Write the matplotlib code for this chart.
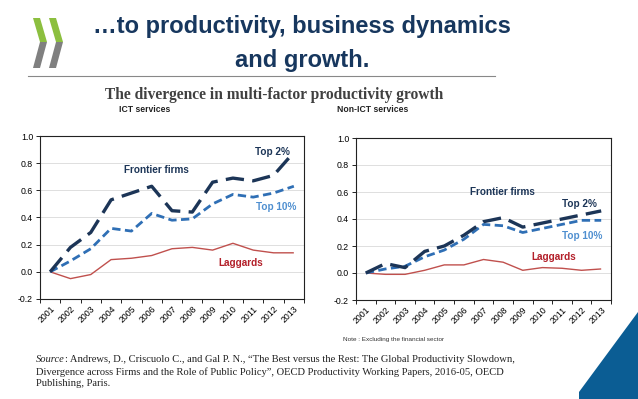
import matplotlib
matplotlib.use("Agg")
import matplotlib.pyplot as plt
from matplotlib.patches import Polygon

years = ["2001", "2002", "2003", "2004", "2005", "2006", "2007",
         "2008", "2009", "2010", "2011", "2012", "2013"]

ict_top2 = [0.00, 0.18, 0.29, 0.53, 0.58, 0.63, 0.45, 0.44, 0.66, 0.69, 0.67, 0.71, 0.88]
ict_top10 = [0.00, 0.08, 0.17, 0.32, 0.30, 0.43, 0.38, 0.39, 0.50, 0.57, 0.55, 0.58, 0.63]
ict_lag = [0.00, -0.05, -0.02, 0.09, 0.10, 0.12, 0.17, 0.18, 0.16, 0.21, 0.16, 0.14, 0.14]

non_top2 = [0.00, 0.07, 0.04, 0.16, 0.20, 0.28, 0.38, 0.41, 0.34, 0.37, 0.40, 0.43, 0.46]
non_top10 = [0.00, 0.03, 0.05, 0.12, 0.17, 0.25, 0.36, 0.35, 0.30, 0.33, 0.36, 0.39, 0.39]
non_lag = [0.00, -0.01, -0.01, 0.02, 0.06, 0.06, 0.10, 0.08, 0.02, 0.04, 0.035, 0.02, 0.03]

yticks = [-0.2, 0.0, 0.2, 0.4, 0.6, 0.8, 1.0]

NAVY = "#1c3557"
BLUE = "#2f6fb5"
RED = "#c0504d"
TXT_BLUE = "#4f8fd0"
TXT_RED = "#b3202a"

W, H = 638, 399
fig = plt.figure(figsize=(W / 100, H / 100), dpi=100)
fig.patch.set_facecolor("white")


def px(x, y):
    return (x / W, 1 - y / H)


# logo chevrons
for dx in (0, 16):
    green = [px(33 + dx, 18), px(40 + dx, 18), px(47 + dx, 42), px(40 + dx, 42)]
    gray = [px(40 + dx, 42), px(47 + dx, 42), px(40 + dx, 68), px(33 + dx, 68)]
    fig.patches.append(Polygon(green, closed=True, transform=fig.transFigure,
                               facecolor="#8cbf3f", edgecolor="none"))
    fig.patches.append(Polygon(gray, closed=True, transform=fig.transFigure,
                               facecolor="#808080", edgecolor="none"))

# blue triangle bottom right
tri = [px(579, 392), px(638, 312), px(638, 399), px(579, 399)]
fig.patches.append(Polygon(tri, closed=True, transform=fig.transFigure,
                           facecolor="#0b5d94", edgecolor="none"))

# header
fig.text(302 / W, 1 - 26 / H, "\u2026to productivity, business dynamics",
         ha="center", va="center", fontsize=17, fontweight="bold",
         color="#17375e", family="Liberation Sans")
fig.text(302 / W, 1 - 60 / H, "and growth.",
         ha="center", va="center", fontsize=17, fontweight="bold",
         color="#17375e", family="Liberation Sans")
fig.add_artist(plt.Line2D([28 / W, 495 / W], [1 - 76 / H, 1 - 76 / H],
                          transform=fig.transFigure, color="#888888", lw=0.8))
fig.text(274 / W, 1 - 95 / H, "The divergence in multi-factor productivity growth",
         ha="center", va="center", fontsize=11.2, fontweight="bold",
         color="#404040", family="Liberation Serif")
fig.text(145 / W, 1 - 110 / H, "ICT services", ha="center", va="center",
         fontsize=6.2, fontweight="bold", color="#222222", family="Liberation Sans")
fig.text(373 / W, 1 - 110 / H, "Non-ICT services", ha="center", va="center",
         fontsize=6.2, fontweight="bold", color="#222222", family="Liberation Sans")


def draw(ax, top2, top10, lag, labels):
    x = list(range(len(years)))
    ax.plot(x, lag, color=RED, lw=1.0, solid_capstyle="butt")
    ax.plot(x, top10, color=BLUE, lw=2.0, dashes=(3, 1.6))
    ax.plot(x, top2, color=NAVY, lw=2.4, dashes=(5.5, 2.5))
    ax.set_xlim(-0.5, len(years) - 0.5)
    ax.set_ylim(-0.2, 1.0)
    ax.set_yticks(yticks)
    ax.set_yticklabels([f"{v:.1f}" for v in yticks], fontsize=6.3, family="Liberation Sans")
    ax.set_xticks(x)
    ax.set_xticklabels(years, rotation=45, fontsize=6.3, family="Liberation Sans",
                       ha="right", rotation_mode="anchor")
    ax.set_xticks([i - 0.5 for i in range(len(years) + 1)], minor=True)
    ax.tick_params(axis="x", which="major", length=0, pad=4)
    ax.tick_params(axis="x", which="minor", length=3, width=0.6)
    ax.tick_params(axis="y", length=3, width=0.6, pad=2)
    ax.grid(axis="y", color="#d9d9d9", lw=0.6)
    ax.set_axisbelow(True)
    for s in ax.spines.values():
        s.set_linewidth(0.8)
        s.set_color("#222222")
    for txt, xf, yf, col in labels:
        ax.text(xf, yf, txt, transform=ax.transAxes, ha="center", va="center",
                fontsize=7.2, fontweight="bold", color=col, family="Liberation Sans")


ax1 = fig.add_axes([40 / W, 1 - 299 / H, 264 / W, 163 / H])
draw(ax1, ict_top2, ict_top10, ict_lag, [
    ("Frontier firms", 0.44, 0.79, NAVY),
    ("Top 2%", 0.88, 0.90, NAVY),
    ("Top 10%", 0.894, 0.564, TXT_BLUE),
    ("Laggards", 0.761, 0.221, TXT_RED),
])

ax2 = fig.add_axes([356 / W, 1 - 300 / H, 255 / W, 162 / H])
draw(ax2, non_top2, non_top10, non_lag, [
    ("Frontier firms", 0.576, 0.667, NAVY),
    ("Top 2%", 0.878, 0.593, NAVY),
    ("Top 10%", 0.886, 0.395, TXT_BLUE),
    ("Laggards", 0.776, 0.265, TXT_RED),
])

fig.text(343 / W, 1 - 340 / H, "Note : Excluding the financial sector",
         ha="left", va="center", fontsize=4.6, color="#333333", family="Liberation Sans")

src_kw = dict(ha="left", va="center", fontsize=7.6, color="#222222", family="Liberation Serif")
t = fig.text(36 / W, 1 - 360 / H, "Source", style="italic", **src_kw)
fig.canvas.draw()
bb = t.get_window_extent()
fig.text(bb.x1 / W, 1 - 360 / H,
         ": Andrews, D., Criscuolo C., and Gal P. N., \u201cThe Best versus the Rest: The Global Productivity Slowdown,",
         **src_kw)
fig.text(36 / W, 1 - 372 / H,
         "Divergence across Firms and the Role of Public Policy\u201d, OECD Productivity Working Papers, 2016-05, OECD",
         **src_kw)
fig.text(36 / W, 1 - 384 / H, "Publishing, Paris.", **src_kw)

fig.savefig("out.png", dpi=100, facecolor="white")
